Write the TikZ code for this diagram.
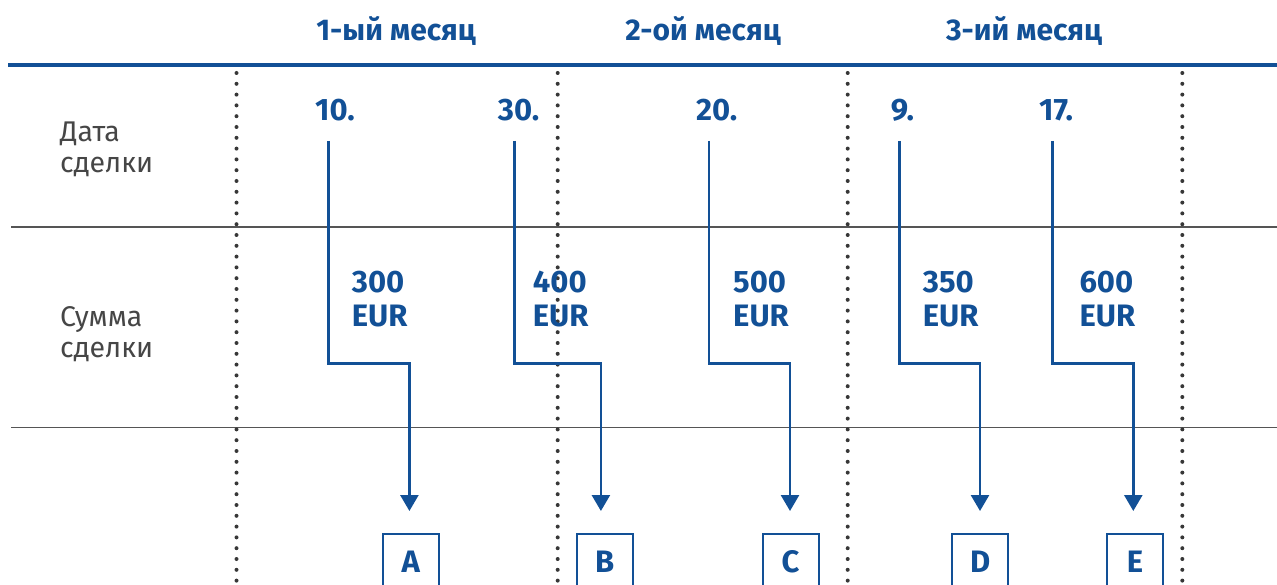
\documentclass[tikz,border=0pt]{standalone}
\usepackage{fontspec}
\setmainfont{Fira Sans}
\usetikzlibrary{arrows.meta}
\definecolor{cblue}{RGB}{18,80,150}
\definecolor{ctext}{RGB}{70,70,70}
\definecolor{cline}{RGB}{85,85,85}
\definecolor{cdot}{RGB}{55,55,55}
\tikzset{
  title/.style={font=\fontsize{30}{34}\selectfont\bfseries, text=cblue, inner sep=0pt, anchor=base},
  datelbl/.style={font=\fontsize{31}{34}\selectfont\bfseries, text=cblue, inner sep=0pt, anchor=base west},
  amount/.style={font=\fontsize{31}{34}\selectfont\bfseries, text=cblue, inner sep=0pt, anchor=base west},
  rowlbl/.style={font=\fontsize{28.5}{31}\selectfont, text=ctext, inner sep=0pt, anchor=base west},
  letterbox/.style={draw=cblue, line width=2pt, minimum width=56pt, minimum height=56pt, inner sep=0pt,
     font=\fontsize{31}{34}\selectfont\bfseries, text=cblue},
  arr/.style={draw=cblue, line width=2.6pt, -{Triangle[length=16pt,width=18pt]}},
  dotline/.style={draw=cdot, line width=4pt, line cap=round, dash pattern=on 0pt off 10.8pt},
  rule/.style={draw=cline, line width=1.6pt},
}
\begin{document}
\begin{tikzpicture}[x=1pt,y=-1pt]
\useasboundingbox (0,0) rectangle (1277,585);
% horizontal rules
\draw[draw=cblue, line width=3.8pt] (8,65) -- (1277,65);
\draw[rule] (11,227) -- (1277,227);
\draw[rule] (11,427.5) -- (1277,427.5);
% dotted separators
\foreach \x in {236.5,557.7,847.7,1182.3}
  \draw[dotline] (\x,73) -- (\x,592);
% titles
\node[title] (m1) at (396,40.7) {1-ый месяц};
\node[title] (m2) at (703,40.7) {2-ой месяц};
\node[title] (m3) at (1024,40.7) {3-ий месяц};
% row labels
\node[rowlbl] (r1a) at (60,141.7) {Дата};
\node[rowlbl] (r1b) at (60,172.7) {сделки};
\node[rowlbl] (r2a) at (60,326.5) {Сумма};
\node[rowlbl] (r2b) at (60,357) {сделки};
% dates
\node[datelbl] (d1) at (315,121) {10.};
\node[datelbl] (d2) at (497.7,121) {30.};
\node[datelbl] (d3) at (696,121) {20.};
\node[datelbl] (d4) at (890.7,121) {9.};
\node[datelbl] (d5) at (1039,121) {17.};
% amounts
\node[amount] (a1) at (351.7,292.3) {300};
\node[amount] (a1e) at (351.7,326.7) {EUR};
\node[amount] (a2) at (532.7,292.3) {400};
\node[amount] (a2e) at (532.7,326.7) {EUR};
\node[amount] (a3) at (733,292.3) {500};
\node[amount] (a3e) at (733,326.7) {EUR};
\node[amount] (a4) at (922.7,292.3) {350};
\node[amount] (a4e) at (922.7,326.7) {EUR};
\node[amount] (a5) at (1079.3,292.3) {600};
\node[amount] (a5e) at (1079.3,326.7) {EUR};
% boxes
\node[letterbox] (A) at (410.7,561.7) {A};
\node[letterbox] (B) at (604.8,561.7) {B};
\node[letterbox] (C) at (790.5,561.7) {C};
\node[letterbox] (D) at (980.3,561.7) {D};
\node[letterbox] (E) at (1135,561.7) {E};
% arrow starts
\coordinate (s1) at (328.4,141);
\coordinate (s2) at (514.2,141);
\coordinate (s3) at (709,141);
\coordinate (s4) at (899.4,141);
\coordinate (s5) at (1052.3,141);
% arrows
\draw[arr] (s1) -- ++(0,222.3) -| ([xshift=-1.3pt,yshift=21.7pt]A.north);
\draw[arr] (s2) -- ++(0,222.3) -| ([xshift=-3.9pt,yshift=21.7pt]B.north);
\draw[arr] (s3) -- ++(0,222.3) -| ([xshift=-0.5pt,yshift=21.7pt]C.north);
\draw[arr] (s4) -- ++(0,222.3) -| ([xshift=-0.3pt,yshift=21.7pt]D.north);
\draw[arr] (s5) -- ++(0,222.3) -| ([xshift=-1.7pt,yshift=21.7pt]E.north);
\end{tikzpicture}
\end{document}
